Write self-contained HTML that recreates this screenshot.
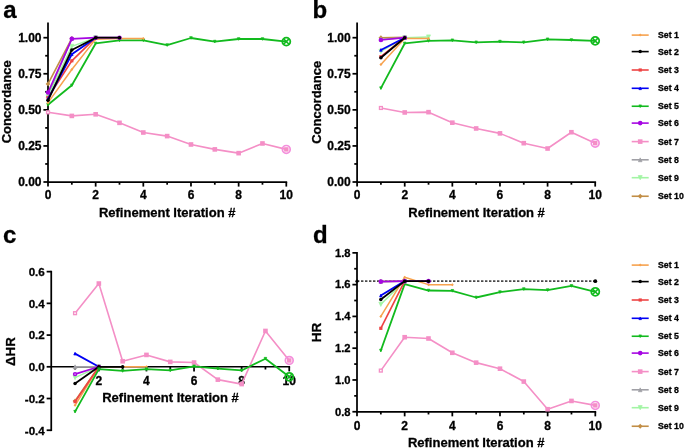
<!DOCTYPE html>
<html><head><meta charset="utf-8"><title>Figure</title>
<style>
html,body{margin:0;padding:0;background:#ffffff;}
body{width:685px;height:448px;overflow:hidden;font-family:"Liberation Sans",sans-serif;}
svg{display:block;will-change:transform;transform:translateZ(0);}
svg text{font-family:"Liberation Sans",sans-serif;fill:#000000;stroke:#000000;stroke-width:0.3px;}
</style></head>
<body>
<svg width="685" height="448" viewBox="0 0 685 448">
<rect x="0" y="0" width="685" height="448" fill="#ffffff"/>
<path d="M48.00 22.60 L48.00 182.88" stroke="#000000" stroke-width="1.75" fill="none"/>
<path d="M43.40 182.00 L48.00 182.00" stroke="#000000" stroke-width="1.75"/>
<path d="M43.40 145.93 L48.00 145.93" stroke="#000000" stroke-width="1.75"/>
<path d="M43.40 109.85 L48.00 109.85" stroke="#000000" stroke-width="1.75"/>
<path d="M43.40 73.77 L48.00 73.77" stroke="#000000" stroke-width="1.75"/>
<path d="M43.40 37.70 L48.00 37.70" stroke="#000000" stroke-width="1.75"/>
<path d="M45.20 163.96 L48.00 163.96" stroke="#000000" stroke-width="1.75"/>
<path d="M45.20 127.89 L48.00 127.89" stroke="#000000" stroke-width="1.75"/>
<path d="M45.20 91.81 L48.00 91.81" stroke="#000000" stroke-width="1.75"/>
<path d="M45.20 55.74 L48.00 55.74" stroke="#000000" stroke-width="1.75"/>
<text x="41.50" y="186.10" font-size="12" text-anchor="end" font-weight="bold">0.00</text>
<text x="41.50" y="150.03" font-size="12" text-anchor="end" font-weight="bold">0.25</text>
<text x="41.50" y="113.95" font-size="12" text-anchor="end" font-weight="bold">0.50</text>
<text x="41.50" y="77.87" font-size="12" text-anchor="end" font-weight="bold">0.75</text>
<text x="41.50" y="41.80" font-size="12" text-anchor="end" font-weight="bold">1.00</text>
<path d="M47.12 182.00 L287.17 182.00" stroke="#000000" stroke-width="1.75" fill="none"/>
<path d="M48.00 182.00 L48.00 186.60" stroke="#000000" stroke-width="1.75"/>
<path d="M95.66 182.00 L95.66 186.60" stroke="#000000" stroke-width="1.75"/>
<path d="M143.32 182.00 L143.32 186.60" stroke="#000000" stroke-width="1.75"/>
<path d="M190.98 182.00 L190.98 186.60" stroke="#000000" stroke-width="1.75"/>
<path d="M238.64 182.00 L238.64 186.60" stroke="#000000" stroke-width="1.75"/>
<path d="M286.30 182.00 L286.30 186.60" stroke="#000000" stroke-width="1.75"/>
<path d="M71.83 182.00 L71.83 184.70" stroke="#000000" stroke-width="1.75"/>
<path d="M119.49 182.00 L119.49 184.70" stroke="#000000" stroke-width="1.75"/>
<path d="M167.15 182.00 L167.15 184.70" stroke="#000000" stroke-width="1.75"/>
<path d="M214.81 182.00 L214.81 184.70" stroke="#000000" stroke-width="1.75"/>
<path d="M262.47 182.00 L262.47 184.70" stroke="#000000" stroke-width="1.75"/>
<text x="48.00" y="199.30" font-size="12" text-anchor="middle" font-weight="bold">0</text>
<text x="95.66" y="199.30" font-size="12" text-anchor="middle" font-weight="bold">2</text>
<text x="143.32" y="199.30" font-size="12" text-anchor="middle" font-weight="bold">4</text>
<text x="190.98" y="199.30" font-size="12" text-anchor="middle" font-weight="bold">6</text>
<text x="238.64" y="199.30" font-size="12" text-anchor="middle" font-weight="bold">8</text>
<text x="286.30" y="199.30" font-size="12" text-anchor="middle" font-weight="bold">10</text>
<text x="9.00" y="8.00" font-size="1" text-anchor="middle" font-weight="bold"></text>
<text x="10.80" y="101.80" font-size="13" text-anchor="middle" font-weight="bold" transform="rotate(-90 10.80 101.80)">Concordance</text>
<text x="167.20" y="216.60" font-size="13" text-anchor="middle" font-weight="bold">Refinement Iteration #</text>
<text x="3.30" y="18.40" font-size="24" text-anchor="start" font-weight="bold">a</text>
<path d="M48.00 112.30 L71.83 115.91 L95.66 114.32 L119.49 122.84 L143.32 132.51 L167.15 136.11 L190.98 144.48 L214.81 149.39 L238.64 153.14 L262.47 143.47 L286.30 149.39" fill="none" stroke="#F48FC6" stroke-width="1.6" stroke-linejoin="round" stroke-linecap="round"/>
<rect x="46.57" y="110.88" width="2.85" height="2.85" fill="#ffffff" stroke="#F48FC6" stroke-width="1.35"/>
<rect x="69.53" y="113.61" width="4.60" height="4.60" fill="#F48FC6"/>
<rect x="93.36" y="112.02" width="4.60" height="4.60" fill="#F48FC6"/>
<rect x="117.19" y="120.54" width="4.60" height="4.60" fill="#F48FC6"/>
<rect x="141.02" y="130.21" width="4.60" height="4.60" fill="#F48FC6"/>
<rect x="164.85" y="133.81" width="4.60" height="4.60" fill="#F48FC6"/>
<rect x="188.68" y="142.18" width="4.60" height="4.60" fill="#F48FC6"/>
<rect x="212.51" y="147.09" width="4.60" height="4.60" fill="#F48FC6"/>
<rect x="236.34" y="150.84" width="4.60" height="4.60" fill="#F48FC6"/>
<rect x="260.17" y="141.17" width="4.60" height="4.60" fill="#F48FC6"/>
<circle cx="286.30" cy="149.39" r="3.9" fill="none" stroke="#F48EDC" stroke-width="1.7"/>
<rect x="284.10" y="147.19" width="4.4" height="4.4" fill="#F48FC6"/>
<path d="M48.00 104.80 L71.83 85.32 L95.66 43.47 L119.49 40.44 L143.32 40.30 L167.15 45.06 L190.98 37.99 L214.81 41.60 L238.64 39.00 L262.47 39.00 L286.30 41.60" fill="none" stroke="#12BA1E" stroke-width="1.8" stroke-linejoin="round" stroke-linecap="round"/>
<path d="M48.00 106.14 L49.28 103.46 L46.72 103.46 Z" fill="#12BA1E" stroke="#12BA1E" stroke-width="0.7" stroke-linejoin="round"/>
<path d="M71.83 86.66 L73.11 83.97 L70.55 83.97 Z" fill="#12BA1E" stroke="#12BA1E" stroke-width="0.7" stroke-linejoin="round"/>
<path d="M95.66 44.82 L96.94 42.13 L94.38 42.13 Z" fill="#12BA1E" stroke="#12BA1E" stroke-width="0.7" stroke-linejoin="round"/>
<path d="M119.49 41.79 L120.77 39.10 L118.21 39.10 Z" fill="#12BA1E" stroke="#12BA1E" stroke-width="0.7" stroke-linejoin="round"/>
<path d="M143.32 41.64 L144.60 38.95 L142.04 38.95 Z" fill="#12BA1E" stroke="#12BA1E" stroke-width="0.7" stroke-linejoin="round"/>
<path d="M167.15 46.40 L168.43 43.72 L165.87 43.72 Z" fill="#12BA1E" stroke="#12BA1E" stroke-width="0.7" stroke-linejoin="round"/>
<path d="M190.98 39.33 L192.26 36.64 L189.70 36.64 Z" fill="#12BA1E" stroke="#12BA1E" stroke-width="0.7" stroke-linejoin="round"/>
<path d="M214.81 42.94 L216.09 40.25 L213.53 40.25 Z" fill="#12BA1E" stroke="#12BA1E" stroke-width="0.7" stroke-linejoin="round"/>
<path d="M238.64 40.34 L239.92 37.65 L237.36 37.65 Z" fill="#12BA1E" stroke="#12BA1E" stroke-width="0.7" stroke-linejoin="round"/>
<path d="M262.47 40.34 L263.75 37.65 L261.19 37.65 Z" fill="#12BA1E" stroke="#12BA1E" stroke-width="0.7" stroke-linejoin="round"/>
<circle cx="286.30" cy="41.60" r="4.0" fill="none" stroke="#12BA1E" stroke-width="1.8"/>
<path d="M283.60 38.90 L289.00 44.30 M283.60 44.30 L289.00 38.90" stroke="#12BA1E" stroke-width="1.6" fill="none"/>
<path d="M48.00 83.88 L71.83 38.42" fill="none" stroke="#C28E46" stroke-width="1.6" stroke-linejoin="round" stroke-linecap="round"/>
<path d="M48.00 81.48 L50.40 83.88 L48.00 86.28 L45.60 83.88 Z" fill="#C28E46"/>
<path d="M71.83 36.02 L74.23 38.42 L71.83 40.82 L69.43 38.42 Z" fill="#C28E46"/>
<path d="M48.00 95.42 L71.83 38.42" fill="none" stroke="#A0A0A6" stroke-width="1.5" stroke-linejoin="round" stroke-linecap="round"/>
<path d="M48.00 93.49 L49.84 97.35 L46.16 97.35 Z" fill="#A0A0A6" stroke="#A0A0A6" stroke-width="0.7" stroke-linejoin="round"/>
<path d="M71.83 36.49 L73.67 40.35 L69.99 40.35 Z" fill="#A0A0A6" stroke="#A0A0A6" stroke-width="0.7" stroke-linejoin="round"/>
<path d="M48.00 96.86 L71.83 46.36 L95.66 37.70" fill="none" stroke="#A2F5A4" stroke-width="1.45" stroke-linejoin="round" stroke-linecap="round"/>
<path d="M48.00 98.96 L50.00 94.76 L46.00 94.76 Z" fill="#A2F5A4" stroke="#A2F5A4" stroke-width="0.7" stroke-linejoin="round"/>
<path d="M71.83 48.46 L73.83 44.26 L69.83 44.26 Z" fill="#A2F5A4" stroke="#A2F5A4" stroke-width="0.7" stroke-linejoin="round"/>
<path d="M95.66 39.80 L97.66 35.60 L93.66 35.60 Z" fill="#A2F5A4" stroke="#A2F5A4" stroke-width="0.7" stroke-linejoin="round"/>
<path d="M48.00 102.63 L71.83 69.45 L95.66 39.14 L119.49 38.42 L143.32 38.42" fill="none" stroke="#F7A24E" stroke-width="1.5" stroke-linejoin="round" stroke-linecap="round"/>
<path d="M48.00 101.13 L49.50 102.63 L48.00 104.13 L46.50 102.63 Z" fill="#F7A24E"/>
<path d="M71.83 67.95 L73.33 69.45 L71.83 70.95 L70.33 69.45 Z" fill="#F7A24E"/>
<path d="M95.66 37.64 L97.16 39.14 L95.66 40.64 L94.16 39.14 Z" fill="#F7A24E"/>
<path d="M119.49 36.92 L120.99 38.42 L119.49 39.92 L117.99 38.42 Z" fill="#F7A24E"/>
<path d="M143.32 36.92 L144.82 38.42 L143.32 39.92 L141.82 38.42 Z" fill="#F7A24E"/>
<path d="M48.00 97.58 L71.83 60.79 L95.66 37.70" fill="none" stroke="#EE4444" stroke-width="1.65" stroke-linejoin="round" stroke-linecap="round"/>
<rect x="46.40" y="95.98" width="3.20" height="3.20" fill="#EE4444"/>
<rect x="70.23" y="59.19" width="3.20" height="3.20" fill="#EE4444"/>
<rect x="94.06" y="36.10" width="3.20" height="3.20" fill="#EE4444"/>
<path d="M48.00 99.03 L71.83 54.29 L95.66 37.70" fill="none" stroke="#0000F4" stroke-width="1.8" stroke-linejoin="round" stroke-linecap="round"/>
<path d="M48.00 97.68 L49.28 100.37 L46.72 100.37 Z" fill="#0000F4" stroke="#0000F4" stroke-width="0.7" stroke-linejoin="round"/>
<path d="M71.83 52.95 L73.11 55.64 L70.55 55.64 Z" fill="#0000F4" stroke="#0000F4" stroke-width="0.7" stroke-linejoin="round"/>
<path d="M95.66 36.36 L96.94 39.04 L94.38 39.04 Z" fill="#0000F4" stroke="#0000F4" stroke-width="0.7" stroke-linejoin="round"/>
<path d="M48.00 92.53 L71.83 38.85 L95.66 37.70 L119.49 37.70" fill="none" stroke="#A606E2" stroke-width="1.7" stroke-linejoin="round" stroke-linecap="round"/>
<circle cx="48.00" cy="92.53" r="2.30" fill="#A606E2"/>
<circle cx="71.83" cy="38.85" r="2.30" fill="#A606E2"/>
<circle cx="95.66" cy="37.70" r="2.30" fill="#A606E2"/>
<circle cx="119.49" cy="37.70" r="2.30" fill="#A606E2"/>
<path d="M48.00 100.33 L71.83 49.97 L95.66 37.70 L119.49 37.70" fill="none" stroke="#000000" stroke-width="1.8" stroke-linejoin="round" stroke-linecap="round"/>
<circle cx="48.00" cy="100.33" r="1.75" fill="#000000"/>
<circle cx="71.83" cy="49.97" r="1.75" fill="#000000"/>
<circle cx="95.66" cy="37.70" r="1.75" fill="#000000"/>
<circle cx="119.49" cy="37.70" r="1.75" fill="#000000"/>
<path d="M357.10 22.60 L357.10 182.88" stroke="#000000" stroke-width="1.75" fill="none"/>
<path d="M352.50 182.00 L357.10 182.00" stroke="#000000" stroke-width="1.75"/>
<path d="M352.50 145.93 L357.10 145.93" stroke="#000000" stroke-width="1.75"/>
<path d="M352.50 109.85 L357.10 109.85" stroke="#000000" stroke-width="1.75"/>
<path d="M352.50 73.77 L357.10 73.77" stroke="#000000" stroke-width="1.75"/>
<path d="M352.50 37.70 L357.10 37.70" stroke="#000000" stroke-width="1.75"/>
<path d="M354.30 163.96 L357.10 163.96" stroke="#000000" stroke-width="1.75"/>
<path d="M354.30 127.89 L357.10 127.89" stroke="#000000" stroke-width="1.75"/>
<path d="M354.30 91.81 L357.10 91.81" stroke="#000000" stroke-width="1.75"/>
<path d="M354.30 55.74 L357.10 55.74" stroke="#000000" stroke-width="1.75"/>
<text x="350.60" y="186.10" font-size="12" text-anchor="end" font-weight="bold">0.00</text>
<text x="350.60" y="150.03" font-size="12" text-anchor="end" font-weight="bold">0.25</text>
<text x="350.60" y="113.95" font-size="12" text-anchor="end" font-weight="bold">0.50</text>
<text x="350.60" y="77.87" font-size="12" text-anchor="end" font-weight="bold">0.75</text>
<text x="350.60" y="41.80" font-size="12" text-anchor="end" font-weight="bold">1.00</text>
<path d="M356.23 182.00 L596.08 182.00" stroke="#000000" stroke-width="1.75" fill="none"/>
<path d="M357.10 182.00 L357.10 186.60" stroke="#000000" stroke-width="1.75"/>
<path d="M404.72 182.00 L404.72 186.60" stroke="#000000" stroke-width="1.75"/>
<path d="M452.34 182.00 L452.34 186.60" stroke="#000000" stroke-width="1.75"/>
<path d="M499.96 182.00 L499.96 186.60" stroke="#000000" stroke-width="1.75"/>
<path d="M547.58 182.00 L547.58 186.60" stroke="#000000" stroke-width="1.75"/>
<path d="M595.20 182.00 L595.20 186.60" stroke="#000000" stroke-width="1.75"/>
<path d="M380.91 182.00 L380.91 184.70" stroke="#000000" stroke-width="1.75"/>
<path d="M428.53 182.00 L428.53 184.70" stroke="#000000" stroke-width="1.75"/>
<path d="M476.15 182.00 L476.15 184.70" stroke="#000000" stroke-width="1.75"/>
<path d="M523.77 182.00 L523.77 184.70" stroke="#000000" stroke-width="1.75"/>
<path d="M571.39 182.00 L571.39 184.70" stroke="#000000" stroke-width="1.75"/>
<text x="357.10" y="199.30" font-size="12" text-anchor="middle" font-weight="bold">0</text>
<text x="404.72" y="199.30" font-size="12" text-anchor="middle" font-weight="bold">2</text>
<text x="452.34" y="199.30" font-size="12" text-anchor="middle" font-weight="bold">4</text>
<text x="499.96" y="199.30" font-size="12" text-anchor="middle" font-weight="bold">6</text>
<text x="547.58" y="199.30" font-size="12" text-anchor="middle" font-weight="bold">8</text>
<text x="595.20" y="199.30" font-size="12" text-anchor="middle" font-weight="bold">10</text>
<text x="320.80" y="102.30" font-size="13" text-anchor="middle" font-weight="bold" transform="rotate(-90 320.80 102.30)">Concordance</text>
<text x="476.60" y="216.60" font-size="13" text-anchor="middle" font-weight="bold">Refinement Iteration #</text>
<text x="312.60" y="18.30" font-size="24" text-anchor="start" font-weight="bold">b</text>
<path d="M380.91 107.97 L404.72 112.45 L428.53 112.16 L452.34 122.69 L476.15 128.46 L499.96 133.37 L523.77 143.18 L547.58 148.52 L571.39 132.22 L595.20 143.18" fill="none" stroke="#F48FC6" stroke-width="1.6" stroke-linejoin="round" stroke-linecap="round"/>
<rect x="379.48" y="106.55" width="2.85" height="2.85" fill="#ffffff" stroke="#F48FC6" stroke-width="1.35"/>
<rect x="402.42" y="110.15" width="4.60" height="4.60" fill="#F48FC6"/>
<rect x="426.23" y="109.86" width="4.60" height="4.60" fill="#F48FC6"/>
<rect x="450.04" y="120.39" width="4.60" height="4.60" fill="#F48FC6"/>
<rect x="473.85" y="126.16" width="4.60" height="4.60" fill="#F48FC6"/>
<rect x="497.66" y="131.07" width="4.60" height="4.60" fill="#F48FC6"/>
<rect x="521.47" y="140.88" width="4.60" height="4.60" fill="#F48FC6"/>
<rect x="545.28" y="146.22" width="4.60" height="4.60" fill="#F48FC6"/>
<rect x="569.09" y="129.92" width="4.60" height="4.60" fill="#F48FC6"/>
<circle cx="595.20" cy="143.18" r="3.9" fill="none" stroke="#F48EDC" stroke-width="1.7"/>
<rect x="593.00" y="140.98" width="4.4" height="4.4" fill="#F48FC6"/>
<path d="M380.91 88.20 L404.72 43.47 L428.53 40.87 L452.34 40.30 L476.15 42.32 L499.96 41.60 L523.77 42.32 L547.58 39.29 L571.39 40.01 L595.20 40.87" fill="none" stroke="#12BA1E" stroke-width="1.8" stroke-linejoin="round" stroke-linecap="round"/>
<path d="M380.91 89.55 L382.19 86.86 L379.63 86.86 Z" fill="#12BA1E" stroke="#12BA1E" stroke-width="0.7" stroke-linejoin="round"/>
<path d="M404.72 44.82 L406.00 42.13 L403.44 42.13 Z" fill="#12BA1E" stroke="#12BA1E" stroke-width="0.7" stroke-linejoin="round"/>
<path d="M428.53 42.22 L429.81 39.53 L427.25 39.53 Z" fill="#12BA1E" stroke="#12BA1E" stroke-width="0.7" stroke-linejoin="round"/>
<path d="M452.34 41.64 L453.62 38.95 L451.06 38.95 Z" fill="#12BA1E" stroke="#12BA1E" stroke-width="0.7" stroke-linejoin="round"/>
<path d="M476.15 43.66 L477.43 40.97 L474.87 40.97 Z" fill="#12BA1E" stroke="#12BA1E" stroke-width="0.7" stroke-linejoin="round"/>
<path d="M499.96 42.94 L501.24 40.25 L498.68 40.25 Z" fill="#12BA1E" stroke="#12BA1E" stroke-width="0.7" stroke-linejoin="round"/>
<path d="M523.77 43.66 L525.05 40.97 L522.49 40.97 Z" fill="#12BA1E" stroke="#12BA1E" stroke-width="0.7" stroke-linejoin="round"/>
<path d="M547.58 40.63 L548.86 37.94 L546.30 37.94 Z" fill="#12BA1E" stroke="#12BA1E" stroke-width="0.7" stroke-linejoin="round"/>
<path d="M571.39 41.35 L572.67 38.66 L570.11 38.66 Z" fill="#12BA1E" stroke="#12BA1E" stroke-width="0.7" stroke-linejoin="round"/>
<circle cx="595.20" cy="40.87" r="4.0" fill="none" stroke="#12BA1E" stroke-width="1.8"/>
<path d="M592.50 38.17 L597.90 43.57 M592.50 43.57 L597.90 38.17" stroke="#12BA1E" stroke-width="1.6" fill="none"/>
<path d="M380.91 37.70 L404.72 37.41" fill="none" stroke="#C28E46" stroke-width="1.6" stroke-linejoin="round" stroke-linecap="round"/>
<path d="M380.91 35.30 L383.31 37.70 L380.91 40.10 L378.51 37.70 Z" fill="#C28E46"/>
<path d="M404.72 35.01 L407.12 37.41 L404.72 39.81 L402.32 37.41 Z" fill="#C28E46"/>
<path d="M380.91 39.14 L404.72 37.70" fill="none" stroke="#A0A0A6" stroke-width="1.5" stroke-linejoin="round" stroke-linecap="round"/>
<path d="M380.91 37.21 L382.75 41.08 L379.07 41.08 Z" fill="#A0A0A6" stroke="#A0A0A6" stroke-width="0.7" stroke-linejoin="round"/>
<path d="M404.72 35.77 L406.56 39.63 L402.88 39.63 Z" fill="#A0A0A6" stroke="#A0A0A6" stroke-width="0.7" stroke-linejoin="round"/>
<path d="M380.91 51.41 L404.72 37.70 L428.53 36.98" fill="none" stroke="#A2F5A4" stroke-width="1.45" stroke-linejoin="round" stroke-linecap="round"/>
<path d="M380.91 53.51 L382.91 49.31 L378.91 49.31 Z" fill="#A2F5A4" stroke="#A2F5A4" stroke-width="0.7" stroke-linejoin="round"/>
<path d="M404.72 39.80 L406.72 35.60 L402.72 35.60 Z" fill="#A2F5A4" stroke="#A2F5A4" stroke-width="0.7" stroke-linejoin="round"/>
<path d="M428.53 39.08 L430.53 34.88 L426.53 34.88 Z" fill="#A2F5A4" stroke="#A2F5A4" stroke-width="0.7" stroke-linejoin="round"/>
<path d="M380.91 64.54 L404.72 38.42 L428.53 38.42" fill="none" stroke="#F7A24E" stroke-width="1.5" stroke-linejoin="round" stroke-linecap="round"/>
<path d="M380.91 63.04 L382.41 64.54 L380.91 66.04 L379.41 64.54 Z" fill="#F7A24E"/>
<path d="M404.72 36.92 L406.22 38.42 L404.72 39.92 L403.22 38.42 Z" fill="#F7A24E"/>
<path d="M428.53 36.92 L430.03 38.42 L428.53 39.92 L427.03 38.42 Z" fill="#F7A24E"/>
<path d="M380.91 56.75 L404.72 37.70" fill="none" stroke="#EE4444" stroke-width="1.65" stroke-linejoin="round" stroke-linecap="round"/>
<rect x="379.31" y="55.15" width="3.20" height="3.20" fill="#EE4444"/>
<rect x="403.12" y="36.10" width="3.20" height="3.20" fill="#EE4444"/>
<path d="M380.91 49.97 L404.72 37.70" fill="none" stroke="#0000F4" stroke-width="1.8" stroke-linejoin="round" stroke-linecap="round"/>
<path d="M380.91 48.62 L382.19 51.31 L379.63 51.31 Z" fill="#0000F4" stroke="#0000F4" stroke-width="0.7" stroke-linejoin="round"/>
<path d="M404.72 36.36 L406.00 39.04 L403.44 39.04 Z" fill="#0000F4" stroke="#0000F4" stroke-width="0.7" stroke-linejoin="round"/>
<path d="M380.91 40.01 L404.72 37.70" fill="none" stroke="#A606E2" stroke-width="1.7" stroke-linejoin="round" stroke-linecap="round"/>
<circle cx="380.91" cy="40.01" r="2.30" fill="#A606E2"/>
<circle cx="404.72" cy="37.70" r="2.30" fill="#A606E2"/>
<path d="M380.91 57.76 L404.72 37.70" fill="none" stroke="#000000" stroke-width="1.8" stroke-linejoin="round" stroke-linecap="round"/>
<circle cx="380.91" cy="57.76" r="1.75" fill="#000000"/>
<circle cx="404.72" cy="37.70" r="1.75" fill="#000000"/>
<path d="M51.25 270.76 L51.25 431.12" stroke="#000000" stroke-width="1.75" fill="none"/>
<path d="M46.65 430.24 L51.25 430.24" stroke="#000000" stroke-width="1.75"/>
<path d="M46.65 398.52 L51.25 398.52" stroke="#000000" stroke-width="1.75"/>
<path d="M46.65 366.80 L51.25 366.80" stroke="#000000" stroke-width="1.75"/>
<path d="M46.65 335.08 L51.25 335.08" stroke="#000000" stroke-width="1.75"/>
<path d="M46.65 303.36 L51.25 303.36" stroke="#000000" stroke-width="1.75"/>
<path d="M46.65 271.64 L51.25 271.64" stroke="#000000" stroke-width="1.75"/>
<text x="44.75" y="434.60" font-size="11.6" text-anchor="end" font-weight="bold">-0.4</text>
<text x="44.75" y="402.88" font-size="11.6" text-anchor="end" font-weight="bold">-0.2</text>
<text x="44.75" y="371.16" font-size="11.6" text-anchor="end" font-weight="bold">0.0</text>
<text x="44.75" y="339.44" font-size="11.6" text-anchor="end" font-weight="bold">0.2</text>
<text x="44.75" y="307.72" font-size="11.6" text-anchor="end" font-weight="bold">0.4</text>
<text x="44.75" y="276.00" font-size="11.6" text-anchor="end" font-weight="bold">0.6</text>
<path d="M51.25 366.80 L290.12 366.80" stroke="#000000" stroke-width="1.5" fill="none"/>
<path d="M98.85 366.80 L98.85 371.40" stroke="#000000" stroke-width="1.75"/>
<path d="M146.45 366.80 L146.45 371.40" stroke="#000000" stroke-width="1.75"/>
<path d="M194.05 366.80 L194.05 371.40" stroke="#000000" stroke-width="1.75"/>
<path d="M241.65 366.80 L241.65 371.40" stroke="#000000" stroke-width="1.75"/>
<path d="M289.25 366.80 L289.25 371.40" stroke="#000000" stroke-width="1.75"/>
<path d="M75.05 366.80 L75.05 369.50" stroke="#000000" stroke-width="1.75"/>
<path d="M122.65 366.80 L122.65 369.50" stroke="#000000" stroke-width="1.75"/>
<path d="M170.25 366.80 L170.25 369.50" stroke="#000000" stroke-width="1.75"/>
<path d="M217.85 366.80 L217.85 369.50" stroke="#000000" stroke-width="1.75"/>
<path d="M265.45 366.80 L265.45 369.50" stroke="#000000" stroke-width="1.75"/>
<text x="98.85" y="385.20" font-size="12" text-anchor="middle" font-weight="bold">2</text>
<text x="146.45" y="385.20" font-size="12" text-anchor="middle" font-weight="bold">4</text>
<text x="194.05" y="385.20" font-size="12" text-anchor="middle" font-weight="bold">6</text>
<text x="241.65" y="385.20" font-size="12" text-anchor="middle" font-weight="bold">8</text>
<text x="289.25" y="385.20" font-size="12" text-anchor="middle" font-weight="bold">10</text>
<text x="15.40" y="351.60" font-size="13.3" text-anchor="middle" font-weight="bold" transform="rotate(-90 15.40 351.60)">&#916;HR</text>
<text x="170.50" y="401.50" font-size="13" text-anchor="middle" font-weight="bold">Refinement Iteration #</text>
<text x="3.10" y="243.20" font-size="24" text-anchor="start" font-weight="bold">c</text>
<path d="M75.05 313.19 L98.85 283.54 L122.65 361.25 L146.45 354.91 L170.25 361.88 L194.05 362.52 L217.85 379.65 L241.65 384.09 L265.45 330.96 L289.25 360.46" fill="none" stroke="#F48FC6" stroke-width="1.6" stroke-linejoin="round" stroke-linecap="round"/>
<rect x="73.62" y="311.77" width="2.85" height="2.85" fill="#ffffff" stroke="#F48FC6" stroke-width="1.35"/>
<rect x="96.55" y="281.24" width="4.60" height="4.60" fill="#F48FC6"/>
<rect x="120.35" y="358.95" width="4.60" height="4.60" fill="#F48FC6"/>
<rect x="144.15" y="352.61" width="4.60" height="4.60" fill="#F48FC6"/>
<rect x="167.95" y="359.58" width="4.60" height="4.60" fill="#F48FC6"/>
<rect x="191.75" y="360.22" width="4.60" height="4.60" fill="#F48FC6"/>
<rect x="215.55" y="377.35" width="4.60" height="4.60" fill="#F48FC6"/>
<rect x="239.35" y="381.79" width="4.60" height="4.60" fill="#F48FC6"/>
<rect x="263.15" y="328.66" width="4.60" height="4.60" fill="#F48FC6"/>
<circle cx="289.25" cy="360.46" r="3.9" fill="none" stroke="#F48EDC" stroke-width="1.7"/>
<rect x="287.05" y="358.26" width="4.4" height="4.4" fill="#F48FC6"/>
<path d="M75.05 366.80 L98.85 366.80" fill="none" stroke="#A0A0A6" stroke-width="1.5" stroke-linejoin="round" stroke-linecap="round"/>
<path d="M75.05 364.87 L76.89 368.73 L73.21 368.73 Z" fill="#A0A0A6" stroke="#A0A0A6" stroke-width="0.7" stroke-linejoin="round"/>
<path d="M98.85 364.87 L100.69 368.73 L97.01 368.73 Z" fill="#A0A0A6" stroke="#A0A0A6" stroke-width="0.7" stroke-linejoin="round"/>
<path d="M75.05 377.58 L98.85 366.80" fill="none" stroke="#A2F5A4" stroke-width="1.45" stroke-linejoin="round" stroke-linecap="round"/>
<path d="M75.05 379.68 L77.05 375.48 L73.05 375.48 Z" fill="#A2F5A4" stroke="#A2F5A4" stroke-width="0.7" stroke-linejoin="round"/>
<path d="M98.85 368.90 L100.85 364.70 L96.85 364.70 Z" fill="#A2F5A4" stroke="#A2F5A4" stroke-width="0.7" stroke-linejoin="round"/>
<path d="M75.05 400.90 L98.85 366.80" fill="none" stroke="#C28E46" stroke-width="1.6" stroke-linejoin="round" stroke-linecap="round"/>
<path d="M75.05 398.50 L77.45 400.90 L75.05 403.30 L72.65 400.90 Z" fill="#C28E46"/>
<path d="M98.85 364.40 L101.25 366.80 L98.85 369.20 L96.45 366.80 Z" fill="#C28E46"/>
<path d="M75.05 405.34 L98.85 366.80 L122.65 366.80 L146.45 366.80" fill="none" stroke="#F7A24E" stroke-width="1.5" stroke-linejoin="round" stroke-linecap="round"/>
<path d="M75.05 403.84 L76.55 405.34 L75.05 406.84 L73.55 405.34 Z" fill="#F7A24E"/>
<path d="M98.85 365.30 L100.35 366.80 L98.85 368.30 L97.35 366.80 Z" fill="#F7A24E"/>
<path d="M122.65 365.30 L124.15 366.80 L122.65 368.30 L121.15 366.80 Z" fill="#F7A24E"/>
<path d="M146.45 365.30 L147.95 366.80 L146.45 368.30 L144.95 366.80 Z" fill="#F7A24E"/>
<path d="M75.05 401.69 L98.85 366.80" fill="none" stroke="#EE4444" stroke-width="1.65" stroke-linejoin="round" stroke-linecap="round"/>
<rect x="73.45" y="400.09" width="3.20" height="3.20" fill="#EE4444"/>
<rect x="97.25" y="365.20" width="3.20" height="3.20" fill="#EE4444"/>
<path d="M75.05 353.64 L98.85 366.80" fill="none" stroke="#0000F4" stroke-width="1.8" stroke-linejoin="round" stroke-linecap="round"/>
<path d="M75.05 352.29 L76.33 354.98 L73.77 354.98 Z" fill="#0000F4" stroke="#0000F4" stroke-width="0.7" stroke-linejoin="round"/>
<path d="M98.85 365.46 L100.13 368.14 L97.57 368.14 Z" fill="#0000F4" stroke="#0000F4" stroke-width="0.7" stroke-linejoin="round"/>
<path d="M75.05 374.10 L98.85 366.80" fill="none" stroke="#A606E2" stroke-width="1.7" stroke-linejoin="round" stroke-linecap="round"/>
<circle cx="75.05" cy="374.10" r="1.45" fill="#ffffff" stroke="#A606E2" stroke-width="1.55"/>
<circle cx="98.85" cy="366.80" r="2.30" fill="#A606E2"/>
<path d="M75.05 383.61 L98.85 366.80 L122.65 366.80" fill="none" stroke="#000000" stroke-width="1.8" stroke-linejoin="round" stroke-linecap="round"/>
<circle cx="75.05" cy="383.61" r="1.75" fill="#000000"/>
<circle cx="98.85" cy="366.80" r="1.75" fill="#000000"/>
<circle cx="122.65" cy="366.80" r="1.75" fill="#000000"/>
<path d="M75.05 411.68 L98.85 369.18 L122.65 370.92 L146.45 369.18 L170.25 370.45 L194.05 366.32 L217.85 368.54 L241.65 370.45 L265.45 358.71 L289.25 376.79" fill="none" stroke="#12BA1E" stroke-width="1.8" stroke-linejoin="round" stroke-linecap="round"/>
<path d="M75.05 413.03 L76.33 410.34 L73.77 410.34 Z" fill="#12BA1E" stroke="#12BA1E" stroke-width="0.7" stroke-linejoin="round"/>
<path d="M98.85 370.52 L100.13 367.84 L97.57 367.84 Z" fill="#12BA1E" stroke="#12BA1E" stroke-width="0.7" stroke-linejoin="round"/>
<path d="M122.65 372.27 L123.93 369.58 L121.37 369.58 Z" fill="#12BA1E" stroke="#12BA1E" stroke-width="0.7" stroke-linejoin="round"/>
<path d="M146.45 370.52 L147.73 367.84 L145.17 367.84 Z" fill="#12BA1E" stroke="#12BA1E" stroke-width="0.7" stroke-linejoin="round"/>
<path d="M170.25 371.79 L171.53 369.10 L168.97 369.10 Z" fill="#12BA1E" stroke="#12BA1E" stroke-width="0.7" stroke-linejoin="round"/>
<path d="M194.05 367.67 L195.33 364.98 L192.77 364.98 Z" fill="#12BA1E" stroke="#12BA1E" stroke-width="0.7" stroke-linejoin="round"/>
<path d="M217.85 369.89 L219.13 367.20 L216.57 367.20 Z" fill="#12BA1E" stroke="#12BA1E" stroke-width="0.7" stroke-linejoin="round"/>
<path d="M241.65 371.79 L242.93 369.10 L240.37 369.10 Z" fill="#12BA1E" stroke="#12BA1E" stroke-width="0.7" stroke-linejoin="round"/>
<path d="M265.45 360.06 L266.73 357.37 L264.17 357.37 Z" fill="#12BA1E" stroke="#12BA1E" stroke-width="0.7" stroke-linejoin="round"/>
<circle cx="289.25" cy="376.79" r="4.0" fill="none" stroke="#12BA1E" stroke-width="1.8"/>
<path d="M286.55 374.09 L291.95 379.49 M286.55 379.49 L291.95 374.09" stroke="#12BA1E" stroke-width="1.6" fill="none"/>
<path d="M357.00 251.97 L357.00 412.62" stroke="#000000" stroke-width="1.75" fill="none"/>
<path d="M352.40 411.75 L357.00 411.75" stroke="#000000" stroke-width="1.75"/>
<path d="M352.40 379.97 L357.00 379.97" stroke="#000000" stroke-width="1.75"/>
<path d="M352.40 348.19 L357.00 348.19" stroke="#000000" stroke-width="1.75"/>
<path d="M352.40 316.41 L357.00 316.41" stroke="#000000" stroke-width="1.75"/>
<path d="M352.40 284.63 L357.00 284.63" stroke="#000000" stroke-width="1.75"/>
<path d="M352.40 252.85 L357.00 252.85" stroke="#000000" stroke-width="1.75"/>
<path d="M354.20 395.86 L357.00 395.86" stroke="#000000" stroke-width="1.75"/>
<path d="M354.20 364.08 L357.00 364.08" stroke="#000000" stroke-width="1.75"/>
<path d="M354.20 332.30 L357.00 332.30" stroke="#000000" stroke-width="1.75"/>
<path d="M354.20 300.52 L357.00 300.52" stroke="#000000" stroke-width="1.75"/>
<path d="M354.20 268.74 L357.00 268.74" stroke="#000000" stroke-width="1.75"/>
<text x="350.50" y="415.58" font-size="11.2" text-anchor="end" font-weight="bold">0.8</text>
<text x="350.50" y="383.80" font-size="11.2" text-anchor="end" font-weight="bold">1.0</text>
<text x="350.50" y="352.02" font-size="11.2" text-anchor="end" font-weight="bold">1.2</text>
<text x="350.50" y="320.24" font-size="11.2" text-anchor="end" font-weight="bold">1.4</text>
<text x="350.50" y="288.46" font-size="11.2" text-anchor="end" font-weight="bold">1.6</text>
<text x="350.50" y="256.68" font-size="11.2" text-anchor="end" font-weight="bold">1.8</text>
<path d="M356.12 411.75 L596.17 411.75" stroke="#000000" stroke-width="1.75" fill="none"/>
<path d="M357.00 411.75 L357.00 416.35" stroke="#000000" stroke-width="1.75"/>
<path d="M404.66 411.75 L404.66 416.35" stroke="#000000" stroke-width="1.75"/>
<path d="M452.32 411.75 L452.32 416.35" stroke="#000000" stroke-width="1.75"/>
<path d="M499.98 411.75 L499.98 416.35" stroke="#000000" stroke-width="1.75"/>
<path d="M547.64 411.75 L547.64 416.35" stroke="#000000" stroke-width="1.75"/>
<path d="M595.30 411.75 L595.30 416.35" stroke="#000000" stroke-width="1.75"/>
<path d="M380.83 411.75 L380.83 414.45" stroke="#000000" stroke-width="1.75"/>
<path d="M428.49 411.75 L428.49 414.45" stroke="#000000" stroke-width="1.75"/>
<path d="M476.15 411.75 L476.15 414.45" stroke="#000000" stroke-width="1.75"/>
<path d="M523.81 411.75 L523.81 414.45" stroke="#000000" stroke-width="1.75"/>
<path d="M571.47 411.75 L571.47 414.45" stroke="#000000" stroke-width="1.75"/>
<text x="357.00" y="429.55" font-size="12" text-anchor="middle" font-weight="bold">0</text>
<text x="404.66" y="429.55" font-size="12" text-anchor="middle" font-weight="bold">2</text>
<text x="452.32" y="429.55" font-size="12" text-anchor="middle" font-weight="bold">4</text>
<text x="499.98" y="429.55" font-size="12" text-anchor="middle" font-weight="bold">6</text>
<text x="547.64" y="429.55" font-size="12" text-anchor="middle" font-weight="bold">8</text>
<text x="595.30" y="429.55" font-size="12" text-anchor="middle" font-weight="bold">10</text>
<text x="321.20" y="332.50" font-size="13.6" text-anchor="middle" font-weight="bold" transform="rotate(-90 321.20 332.50)">HR</text>
<text x="476.20" y="446.70" font-size="13" text-anchor="middle" font-weight="bold">Refinement Iteration #</text>
<text x="313.10" y="243.30" font-size="24" text-anchor="start" font-weight="bold">d</text>
<path d="M357.00 281.13 L595.30 281.13" stroke="#4a4a4a" stroke-width="1.7" stroke-dasharray="2.4 1.6" fill="none"/>
<circle cx="357.00" cy="281.13" r="1.6" fill="#000"/>
<circle cx="595.30" cy="281.13" r="1.9" fill="#000"/>
<path d="M380.83 370.59 L404.66 337.23 L428.49 338.50 L452.32 352.80 L476.15 362.65 L499.98 368.69 L523.81 381.56 L547.64 409.21 L571.47 400.94 L595.30 405.39" fill="none" stroke="#F48FC6" stroke-width="1.6" stroke-linejoin="round" stroke-linecap="round"/>
<rect x="379.40" y="369.17" width="2.85" height="2.85" fill="#ffffff" stroke="#F48FC6" stroke-width="1.35"/>
<rect x="402.36" y="334.93" width="4.60" height="4.60" fill="#F48FC6"/>
<rect x="426.19" y="336.20" width="4.60" height="4.60" fill="#F48FC6"/>
<rect x="450.02" y="350.50" width="4.60" height="4.60" fill="#F48FC6"/>
<rect x="473.85" y="360.35" width="4.60" height="4.60" fill="#F48FC6"/>
<rect x="497.68" y="366.39" width="4.60" height="4.60" fill="#F48FC6"/>
<rect x="521.51" y="379.26" width="4.60" height="4.60" fill="#F48FC6"/>
<rect x="545.34" y="406.91" width="4.60" height="4.60" fill="#F48FC6"/>
<rect x="569.17" y="398.64" width="4.60" height="4.60" fill="#F48FC6"/>
<circle cx="595.30" cy="405.39" r="3.9" fill="none" stroke="#F48EDC" stroke-width="1.7"/>
<rect x="593.10" y="403.19" width="4.4" height="4.4" fill="#F48FC6"/>
<path d="M380.83 350.57 L404.66 284.15 L428.49 290.51 L452.32 290.83 L476.15 297.50 L499.98 292.10 L523.81 289.08 L547.64 290.03 L571.47 285.90 L595.30 291.78" fill="none" stroke="#12BA1E" stroke-width="1.8" stroke-linejoin="round" stroke-linecap="round"/>
<path d="M380.83 351.92 L382.11 349.23 L379.55 349.23 Z" fill="#12BA1E" stroke="#12BA1E" stroke-width="0.7" stroke-linejoin="round"/>
<path d="M404.66 285.50 L405.94 282.81 L403.38 282.81 Z" fill="#12BA1E" stroke="#12BA1E" stroke-width="0.7" stroke-linejoin="round"/>
<path d="M428.49 291.85 L429.77 289.17 L427.21 289.17 Z" fill="#12BA1E" stroke="#12BA1E" stroke-width="0.7" stroke-linejoin="round"/>
<path d="M452.32 292.17 L453.60 289.48 L451.04 289.48 Z" fill="#12BA1E" stroke="#12BA1E" stroke-width="0.7" stroke-linejoin="round"/>
<path d="M476.15 298.84 L477.43 296.16 L474.87 296.16 Z" fill="#12BA1E" stroke="#12BA1E" stroke-width="0.7" stroke-linejoin="round"/>
<path d="M499.98 293.44 L501.26 290.75 L498.70 290.75 Z" fill="#12BA1E" stroke="#12BA1E" stroke-width="0.7" stroke-linejoin="round"/>
<path d="M523.81 290.42 L525.09 287.74 L522.53 287.74 Z" fill="#12BA1E" stroke="#12BA1E" stroke-width="0.7" stroke-linejoin="round"/>
<path d="M547.64 291.38 L548.92 288.69 L546.36 288.69 Z" fill="#12BA1E" stroke="#12BA1E" stroke-width="0.7" stroke-linejoin="round"/>
<path d="M571.47 287.25 L572.75 284.56 L570.19 284.56 Z" fill="#12BA1E" stroke="#12BA1E" stroke-width="0.7" stroke-linejoin="round"/>
<circle cx="595.30" cy="291.78" r="4.0" fill="none" stroke="#12BA1E" stroke-width="1.8"/>
<path d="M592.60 289.08 L598.00 294.48 M592.60 294.48 L598.00 289.08" stroke="#12BA1E" stroke-width="1.6" fill="none"/>
<path d="M380.83 281.45 L404.66 281.13" fill="none" stroke="#C28E46" stroke-width="1.6" stroke-linejoin="round" stroke-linecap="round"/>
<path d="M380.83 279.05 L383.23 281.45 L380.83 283.85 L378.43 281.45 Z" fill="#C28E46"/>
<path d="M404.66 278.73 L407.06 281.13 L404.66 283.53 L402.26 281.13 Z" fill="#C28E46"/>
<path d="M380.83 281.45 L404.66 281.13" fill="none" stroke="#A0A0A6" stroke-width="1.5" stroke-linejoin="round" stroke-linecap="round"/>
<path d="M380.83 279.52 L382.67 283.38 L378.99 283.38 Z" fill="#A0A0A6" stroke="#A0A0A6" stroke-width="0.7" stroke-linejoin="round"/>
<path d="M404.66 279.20 L406.50 283.07 L402.82 283.07 Z" fill="#A0A0A6" stroke="#A0A0A6" stroke-width="0.7" stroke-linejoin="round"/>
<path d="M380.83 304.33 L404.66 281.13" fill="none" stroke="#A2F5A4" stroke-width="1.45" stroke-linejoin="round" stroke-linecap="round"/>
<path d="M380.83 306.43 L382.83 302.23 L378.83 302.23 Z" fill="#A2F5A4" stroke="#A2F5A4" stroke-width="0.7" stroke-linejoin="round"/>
<path d="M404.66 283.23 L406.66 279.03 L402.66 279.03 Z" fill="#A2F5A4" stroke="#A2F5A4" stroke-width="0.7" stroke-linejoin="round"/>
<path d="M380.83 316.41 L404.66 277.32 L428.49 284.63 L452.32 284.63" fill="none" stroke="#F7A24E" stroke-width="1.5" stroke-linejoin="round" stroke-linecap="round"/>
<path d="M380.83 314.91 L382.33 316.41 L380.83 317.91 L379.33 316.41 Z" fill="#F7A24E"/>
<path d="M404.66 275.82 L406.16 277.32 L404.66 278.82 L403.16 277.32 Z" fill="#F7A24E"/>
<path d="M428.49 283.13 L429.99 284.63 L428.49 286.13 L426.99 284.63 Z" fill="#F7A24E"/>
<path d="M452.32 283.13 L453.82 284.63 L452.32 286.13 L450.82 284.63 Z" fill="#F7A24E"/>
<path d="M380.83 328.33 L404.66 281.13" fill="none" stroke="#EE4444" stroke-width="1.65" stroke-linejoin="round" stroke-linecap="round"/>
<rect x="379.23" y="326.73" width="3.20" height="3.20" fill="#EE4444"/>
<rect x="403.06" y="279.53" width="3.20" height="3.20" fill="#EE4444"/>
<path d="M380.83 295.59 L404.66 281.13" fill="none" stroke="#0000F4" stroke-width="1.8" stroke-linejoin="round" stroke-linecap="round"/>
<path d="M380.83 294.25 L382.11 296.94 L379.55 296.94 Z" fill="#0000F4" stroke="#0000F4" stroke-width="0.7" stroke-linejoin="round"/>
<path d="M404.66 279.79 L405.94 282.48 L403.38 282.48 Z" fill="#0000F4" stroke="#0000F4" stroke-width="0.7" stroke-linejoin="round"/>
<path d="M380.83 281.61 L404.66 281.13 L428.49 281.13" fill="none" stroke="#A606E2" stroke-width="1.7" stroke-linejoin="round" stroke-linecap="round"/>
<circle cx="380.83" cy="281.61" r="2.30" fill="#A606E2"/>
<circle cx="404.66" cy="281.13" r="2.30" fill="#A606E2"/>
<circle cx="428.49" cy="281.13" r="2.30" fill="#A606E2"/>
<path d="M380.83 299.57 L404.66 281.13 L428.49 281.13" fill="none" stroke="#000000" stroke-width="1.8" stroke-linejoin="round" stroke-linecap="round"/>
<circle cx="380.83" cy="299.57" r="1.75" fill="#000000"/>
<circle cx="404.66" cy="281.13" r="1.75" fill="#000000"/>
<circle cx="428.49" cy="281.13" r="1.75" fill="#000000"/>
<path d="M631.7 35.10 L648.7 35.10" stroke="#F7A24E" stroke-width="1.6" fill="none"/>
<path d="M640.20 33.60 L641.70 35.10 L640.20 36.60 L638.70 35.10 Z" fill="#F7A24E"/>
<text x="658.0" y="38.20" font-size="8.75" font-weight="bold" stroke="#000" stroke-width="0.25">Set 1</text>
<path d="M631.7 51.60 L648.7 51.60" stroke="#000000" stroke-width="1.6" fill="none"/>
<circle cx="640.20" cy="51.60" r="1.75" fill="#000000"/>
<text x="658.0" y="54.70" font-size="8.75" font-weight="bold" stroke="#000" stroke-width="0.25">Set 2</text>
<path d="M631.7 70.00 L648.7 70.00" stroke="#EE4444" stroke-width="1.6" fill="none"/>
<rect x="638.60" y="68.40" width="3.20" height="3.20" fill="#EE4444"/>
<text x="658.0" y="73.10" font-size="8.75" font-weight="bold" stroke="#000" stroke-width="0.25">Set 3</text>
<path d="M631.7 88.30 L648.7 88.30" stroke="#0000F4" stroke-width="1.6" fill="none"/>
<path d="M640.20 86.96 L641.48 89.64 L638.92 89.64 Z" fill="#0000F4" stroke="#0000F4" stroke-width="0.7" stroke-linejoin="round"/>
<text x="658.0" y="91.40" font-size="8.75" font-weight="bold" stroke="#000" stroke-width="0.25">Set 4</text>
<path d="M631.7 106.25 L648.7 106.25" stroke="#12BA1E" stroke-width="1.6" fill="none"/>
<path d="M640.20 107.59 L641.48 104.91 L638.92 104.91 Z" fill="#12BA1E" stroke="#12BA1E" stroke-width="0.7" stroke-linejoin="round"/>
<text x="658.0" y="109.35" font-size="8.75" font-weight="bold" stroke="#000" stroke-width="0.25">Set 5</text>
<path d="M631.7 123.10 L648.7 123.10" stroke="#A606E2" stroke-width="1.6" fill="none"/>
<circle cx="640.20" cy="123.10" r="2.30" fill="#A606E2"/>
<text x="658.0" y="126.20" font-size="8.75" font-weight="bold" stroke="#000" stroke-width="0.25">Set 6</text>
<path d="M631.7 141.60 L648.7 141.60" stroke="#F48FC6" stroke-width="1.6" fill="none"/>
<rect x="637.90" y="139.30" width="4.60" height="4.60" fill="#F48FC6"/>
<text x="658.0" y="144.70" font-size="8.75" font-weight="bold" stroke="#000" stroke-width="0.25">Set 7</text>
<path d="M631.7 159.80 L648.7 159.80" stroke="#A0A0A6" stroke-width="1.6" fill="none"/>
<path d="M640.20 157.87 L642.04 161.73 L638.36 161.73 Z" fill="#A0A0A6" stroke="#A0A0A6" stroke-width="0.7" stroke-linejoin="round"/>
<text x="658.0" y="162.90" font-size="8.75" font-weight="bold" stroke="#000" stroke-width="0.25">Set 8</text>
<path d="M631.7 177.70 L648.7 177.70" stroke="#A2F5A4" stroke-width="1.6" fill="none"/>
<path d="M640.20 179.80 L642.20 175.60 L638.20 175.60 Z" fill="#A2F5A4" stroke="#A2F5A4" stroke-width="0.7" stroke-linejoin="round"/>
<text x="658.0" y="180.80" font-size="8.75" font-weight="bold" stroke="#000" stroke-width="0.25">Set 9</text>
<path d="M631.7 196.25 L648.7 196.25" stroke="#C28E46" stroke-width="1.6" fill="none"/>
<path d="M640.20 193.85 L642.60 196.25 L640.20 198.65 L637.80 196.25 Z" fill="#C28E46"/>
<text x="658.0" y="199.35" font-size="8.75" font-weight="bold" stroke="#000" stroke-width="0.25">Set 10</text>
<path d="M631.7 265.10 L648.7 265.10" stroke="#F7A24E" stroke-width="1.6" fill="none"/>
<path d="M640.20 263.60 L641.70 265.10 L640.20 266.60 L638.70 265.10 Z" fill="#F7A24E"/>
<text x="658.0" y="268.20" font-size="8.75" font-weight="bold" stroke="#000" stroke-width="0.25">Set 1</text>
<path d="M631.7 281.60 L648.7 281.60" stroke="#000000" stroke-width="1.6" fill="none"/>
<circle cx="640.20" cy="281.60" r="1.75" fill="#000000"/>
<text x="658.0" y="284.70" font-size="8.75" font-weight="bold" stroke="#000" stroke-width="0.25">Set 2</text>
<path d="M631.7 300.00 L648.7 300.00" stroke="#EE4444" stroke-width="1.6" fill="none"/>
<rect x="638.60" y="298.40" width="3.20" height="3.20" fill="#EE4444"/>
<text x="658.0" y="303.10" font-size="8.75" font-weight="bold" stroke="#000" stroke-width="0.25">Set 3</text>
<path d="M631.7 318.30 L648.7 318.30" stroke="#0000F4" stroke-width="1.6" fill="none"/>
<path d="M640.20 316.96 L641.48 319.64 L638.92 319.64 Z" fill="#0000F4" stroke="#0000F4" stroke-width="0.7" stroke-linejoin="round"/>
<text x="658.0" y="321.40" font-size="8.75" font-weight="bold" stroke="#000" stroke-width="0.25">Set 4</text>
<path d="M631.7 336.25 L648.7 336.25" stroke="#12BA1E" stroke-width="1.6" fill="none"/>
<path d="M640.20 337.59 L641.48 334.91 L638.92 334.91 Z" fill="#12BA1E" stroke="#12BA1E" stroke-width="0.7" stroke-linejoin="round"/>
<text x="658.0" y="339.35" font-size="8.75" font-weight="bold" stroke="#000" stroke-width="0.25">Set 5</text>
<path d="M631.7 353.10 L648.7 353.10" stroke="#A606E2" stroke-width="1.6" fill="none"/>
<circle cx="640.20" cy="353.10" r="2.30" fill="#A606E2"/>
<text x="658.0" y="356.20" font-size="8.75" font-weight="bold" stroke="#000" stroke-width="0.25">Set 6</text>
<path d="M631.7 371.60 L648.7 371.60" stroke="#F48FC6" stroke-width="1.6" fill="none"/>
<rect x="637.90" y="369.30" width="4.60" height="4.60" fill="#F48FC6"/>
<text x="658.0" y="374.70" font-size="8.75" font-weight="bold" stroke="#000" stroke-width="0.25">Set 7</text>
<path d="M631.7 389.80 L648.7 389.80" stroke="#A0A0A6" stroke-width="1.6" fill="none"/>
<path d="M640.20 387.87 L642.04 391.73 L638.36 391.73 Z" fill="#A0A0A6" stroke="#A0A0A6" stroke-width="0.7" stroke-linejoin="round"/>
<text x="658.0" y="392.90" font-size="8.75" font-weight="bold" stroke="#000" stroke-width="0.25">Set 8</text>
<path d="M631.7 407.70 L648.7 407.70" stroke="#A2F5A4" stroke-width="1.6" fill="none"/>
<path d="M640.20 409.80 L642.20 405.60 L638.20 405.60 Z" fill="#A2F5A4" stroke="#A2F5A4" stroke-width="0.7" stroke-linejoin="round"/>
<text x="658.0" y="410.80" font-size="8.75" font-weight="bold" stroke="#000" stroke-width="0.25">Set 9</text>
<path d="M631.7 426.25 L648.7 426.25" stroke="#C28E46" stroke-width="1.6" fill="none"/>
<path d="M640.20 423.85 L642.60 426.25 L640.20 428.65 L637.80 426.25 Z" fill="#C28E46"/>
<text x="658.0" y="429.35" font-size="8.75" font-weight="bold" stroke="#000" stroke-width="0.25">Set 10</text>
</svg>
</body></html>
